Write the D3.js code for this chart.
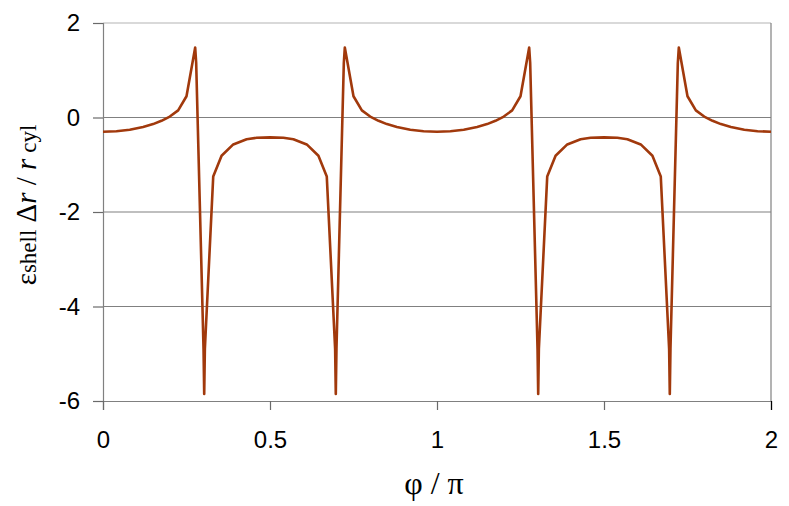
<!DOCTYPE html>
<html>
<head>
<meta charset="utf-8">
<script src="https://cdn.jsdelivr.net/npm/d3@7"></script>
<style>
  body { margin: 0; background: #fff; }
  svg { display: block; }
</style>
</head>
<body>
<div id="chart"></div>
<script>
const width = 789;
const height = 506;

// phi / pi sample positions
const phi = [
    0, 0.04, 0.08, 0.12, 0.15, 0.175, 0.2, 0.225, 0.25, 0.276, 0.279,
    0.301, 0.303, 0.305, 0.33, 0.355, 0.39, 0.43, 0.46, 0.5, 0.54, 0.57,
    0.61, 0.645, 0.67, 0.695, 0.697, 0.699, 0.721, 0.724, 0.75, 0.775,
    0.8, 0.825, 0.85, 0.88, 0.92, 0.96, 1.0,
    1.04, 1.08, 1.12, 1.15, 1.175, 1.2, 1.225, 1.25, 1.276, 1.279,
    1.301, 1.303, 1.305, 1.33, 1.355, 1.39, 1.43, 1.46, 1.5, 1.54, 1.57,
    1.61, 1.645, 1.67, 1.695, 1.697, 1.699, 1.721, 1.724, 1.75, 1.775,
    1.8, 1.825, 1.85, 1.88, 1.92, 1.96, 2.0
];

// eps_shell * dr / r_cyl
const strain = [
    -0.30, -0.29, -0.26, -0.20, -0.14, -0.07, 0.02, 0.15, 0.45, 1.48, 1.15,
    -4.9, -5.85, -4.9, -1.25, -0.81, -0.57, -0.46, -0.43, -0.42, -0.43, -0.46,
    -0.57, -0.81, -1.25, -4.9, -5.85, -4.9, 1.15, 1.48, 0.45, 0.15,
    0.02, -0.07, -0.14, -0.20, -0.26, -0.29, -0.30,
    -0.29, -0.26, -0.20, -0.14, -0.07, 0.02, 0.15, 0.45, 1.48, 1.15,
    -4.9, -5.85, -4.9, -1.25, -0.81, -0.57, -0.46, -0.43, -0.42, -0.43, -0.46,
    -0.57, -0.81, -1.25, -4.9, -5.85, -4.9, 1.15, 1.48, 0.45, 0.15,
    0.02, -0.07, -0.14, -0.20, -0.26, -0.29, -0.30
];

const xTicks = [0, 0.5, 1, 1.5, 2];
const yTicks = [-6, -4, -2, 0, 2];

const plot = { left: 103, right: 771, top: 23, bottom: 401 };

const svg = d3.select("#chart").append("svg")
    .attr("width", width)
    .attr("height", height);

const x = d3.scaleLinear().domain([0, 2]).range([plot.left, plot.right]);
const y = d3.scaleLinear().domain([-6, 2]).range([plot.bottom, plot.top]);

// horizontal grid lines
svg.selectAll(".grid")
    .data(yTicks.filter(d => d > -6))
    .enter().append("line")
    .attr("class", "grid")
    .attr("x1", plot.left)
    .attr("x2", plot.right)
    .attr("y1", d => y(d))
    .attr("y2", d => y(d))
    .style("stroke", d => d === 2 ? "#b4b4b4" : "#808080")
    .style("stroke-width", 1.2);

// right border
svg.append("line")
    .attr("x1", plot.right).attr("x2", plot.right)
    .attr("y1", plot.top).attr("y2", plot.bottom)
    .style("stroke", "#808080")
    .style("stroke-width", 1.2);

const yAxis = d3.axisLeft(y)
    .tickValues(yTicks)
    .tickSize(10)
    .tickPadding(13)
    .tickFormat(d => String(d));   // plain hyphen minus like the original

const xAxis = d3.axisBottom(x)
    .tickValues(xTicks)
    .tickSize(9)
    .tickPadding(21)
    .tickFormat(d => String(d));

const gy = svg.append("g")
    .attr("transform", `translate(${plot.left},0)`)
    .call(yAxis);

const gx = svg.append("g")
    .attr("transform", `translate(0,${plot.bottom})`)
    .call(xAxis);

[gx, gy].forEach(g => {
    g.select(".domain").style("stroke", "#808080").style("stroke-width", 1.2);
    g.selectAll(".tick line").style("stroke", "#6a6a6a").style("stroke-width", 1.2);
    g.selectAll("text")
        .style("font-family", "'Liberation Sans', Arial, sans-serif")
        .style("font-size", "24px")
        .style("fill", "#000");
});
gx.select(".tick:last-of-type line").style("stroke", "#000");

// curve
const line = d3.line()
    .x((d, i) => x(phi[i]))
    .y(d => y(d));

svg.append("path")
    .datum(strain)
    .attr("d", line)
    .style("fill", "none")
    .style("stroke", "#a1390c")
    .style("stroke-width", 2.6)
    .style("stroke-linejoin", "round");

// axis titles
svg.append("text")
    .attr("x", 434)
    .attr("y", 494)
    .attr("text-anchor", "middle")
    .style("font-family", "'Liberation Serif', 'Times New Roman', serif")
    .style("font-size", "32px")
    .text("φ / π");

const yTitle = svg.append("text")
    .attr("transform", "translate(36,205) rotate(-90)")
    .attr("text-anchor", "middle")
    .style("font-family", "'Liberation Serif', 'Times New Roman', serif")
    .style("font-size", "29px");
yTitle.append("tspan").text("ε");
yTitle.append("tspan").style("font-size", "23px").text("shell");
yTitle.append("tspan").text(" Δ");
yTitle.append("tspan").style("font-style", "italic").text("r");
yTitle.append("tspan").text(" / ");
yTitle.append("tspan").style("font-style", "italic").text("r");
yTitle.append("tspan").style("font-size", "23px").text(" cyl");
</script>
</body>
</html>
